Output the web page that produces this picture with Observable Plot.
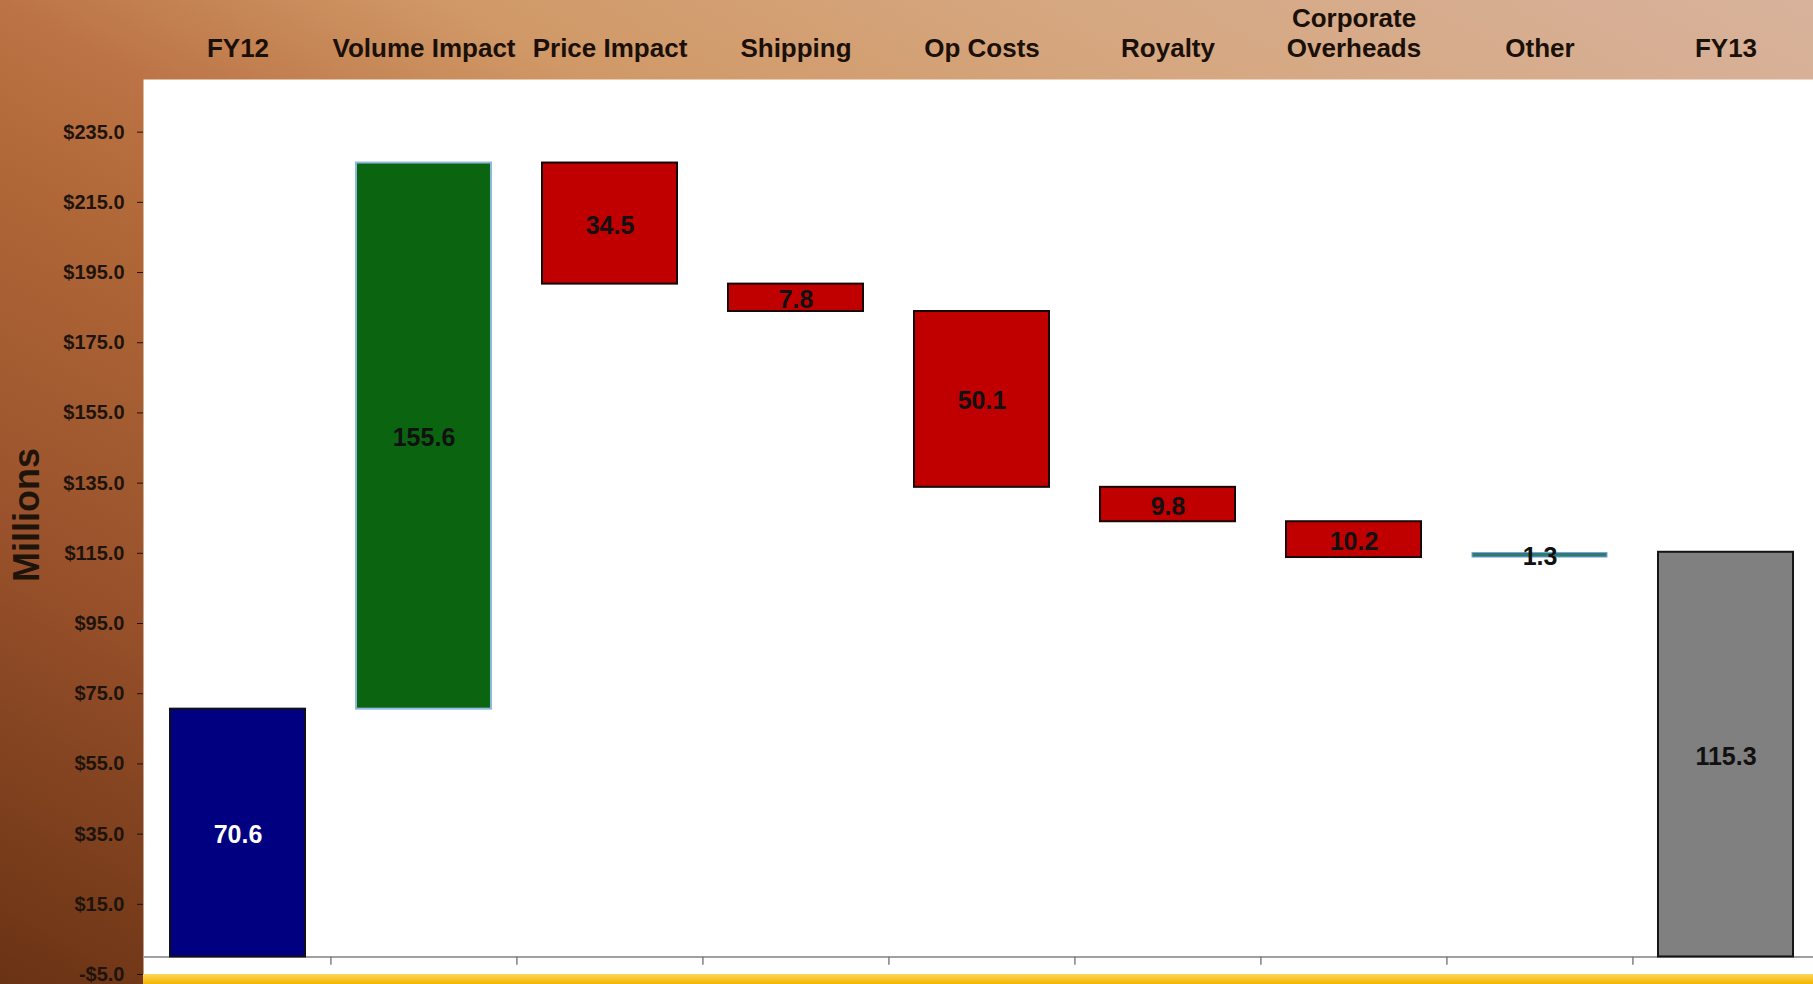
<!DOCTYPE html>
<html>
<head>
<meta charset="utf-8">
<script src="https://cdn.jsdelivr.net/npm/d3@7"></script>
<script src="https://cdn.jsdelivr.net/npm/@observablehq/plot@0.6"></script>
<style>
  html, body { margin: 0; padding: 0; }
  body { width: 1813px; height: 984px; overflow: hidden; position: relative;
    background: linear-gradient(to top right, #6a3314 0%, #97502a 22%, #b06838 42%, #bc7446 50%, #d09866 62%, #d6a882 80%, #d8b29c 100%);
    font-family: "Liberation Sans", Arial, sans-serif; }
  #chart { position: absolute; left: 0; top: 0; }
  #strip { position: absolute; left: 143px; right: 0; top: 974px; height: 10px;
    background: linear-gradient(to bottom, #ffd65a, #f2b400); }
</style>
</head>
<body>
<div id="chart"></div>
<div id="strip"></div>
<script>
// ---- data ----
const categories = ["FY12", "Volume Impact", "Price Impact", "Shipping", "Op Costs", "Royalty", "Corporate\nOverheads", "Other", "FY13"];
const values = [70.6, 155.6, -34.5, -7.8, -50.1, -9.8, -10.2, 1.3, 115.3];
const kinds = ["start", "increase", "decrease", "decrease", "decrease", "decrease", "decrease", "other", "end"];
const yTicks = [-5, 15, 35, 55, 75, 95, 115, 135, 155, 175, 195, 215, 235];

// ---- build waterfall table ----
let running = 0;
const rows = categories.map((c, i) => {
  const k = kinds[i];
  let y1, y2;
  if (k === "start" || k === "end") { y1 = 0; y2 = values[i]; running = values[i]; }
  else { y1 = running; y2 = running + values[i]; running = y2; }
  return { category: c, kind: k, y1, y2, mid: (y1 + y2) / 2, label: Math.abs(values[i]).toFixed(1) };
});

const fills = { start: "#000080", increase: "#0a6410", decrease: "#c00000", other: "#2f7a72", end: "#808080" };
const strokes = { start: "#101018", increase: "#8fb8e0", decrease: "#1a0505", other: "#7aa6d6", end: "#151515" };

const xRange = [143.8, 1819.6];
const step = (xRange[1] - xRange[0]) / categories.length;

const chart = Plot.plot({
  width: 1813,
  height: 984,
  marginLeft: 143,
  marginRight: 0,
  marginTop: 79,
  marginBottom: 10,
  style: { background: "transparent", fontFamily: "'Liberation Sans', Arial, sans-serif", color: "#1a1008" },
  x: { type: "band", domain: categories, range: xRange, paddingInner: 0.275, paddingOuter: 0.1375, axis: null },
  y: { domain: [-5, 250], axis: null },
  marks: [
    Plot.frame({ fill: "white", stroke: "none" }),
    Plot.axisY({
      ticks: yTicks,
      tickFormat: d => (d < 0 ? "-$" : "$") + Math.abs(d).toFixed(1),
      tickSize: 6, tickPadding: 13, fontSize: 20, fontWeight: "bold",
      color: "#1e140c", label: null
    }),
    Plot.text(["Millions"], { frameAnchor: "left", textAnchor: "middle", dx: -116.4, dy: -12, rotate: -90, fontSize: 36, fontWeight: "bold", fill: "#1e140c" }),
    Plot.ruleY([0], { stroke: "#a0a0a0", strokeWidth: 2 }),
    Plot.ruleX(categories.slice(1), { x: d => d, dx: -step / 2, y1: 0, y2: -2.4, stroke: "#808080", strokeWidth: 1.5 }),
    Plot.barY(rows, {
      x: "category", y1: "y1", y2: "y2",
      fill: d => fills[d.kind], stroke: d => strokes[d.kind],
      strokeWidth: d => d.kind === "other" ? 1 : 2
    }),
    Plot.text(rows, {
      x: "category", y: "mid", text: "label", dy: 2,
      fill: d => d.kind === "start" ? "white" : "#111",
      fontSize: 25, fontWeight: "bold"
    }),
    Plot.text(categories, {
      x: d => d, frameAnchor: "top", lineAnchor: "bottom", dy: -23,
      lineHeight: 1.15, fontSize: 26, fontWeight: "bold", fill: "#1a1008"
    })
  ]
});
document.getElementById("chart").appendChild(chart);
</script>
</body>
</html>
